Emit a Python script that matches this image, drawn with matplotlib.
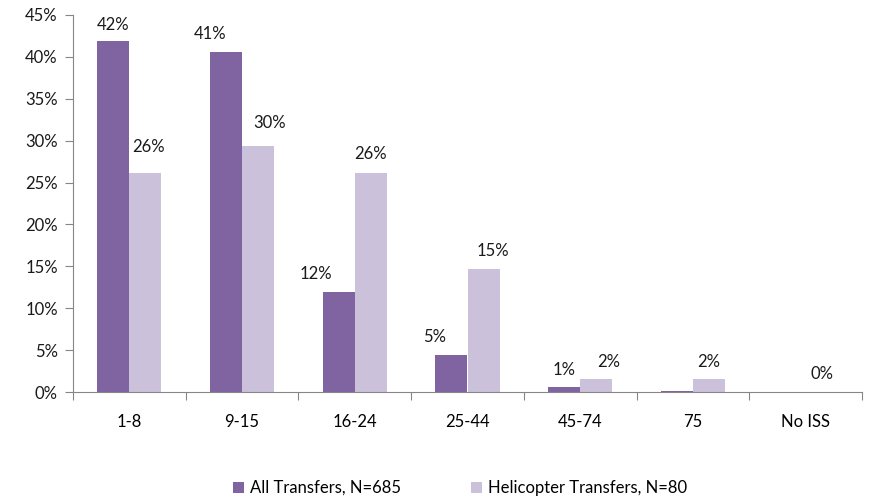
import matplotlib as mpl

mpl.use('agg')

import matplotlib.pyplot as plt
import numpy as np

plt.rcParams['font.family'] = ['Lato', 'DejaVu Sans']
plt.rcParams['font.size'] = 12

categories = ["1-8", "9-15", "16-24", "25-44", "45-74", "75", "No ISS"]
all_transfers = [41.9, 40.6, 11.9, 4.4, 0.6, 0.15, 0.0]
heli_transfers = [26.2, 29.4, 26.2, 14.7, 1.6, 1.6, 0.0]
all_labels = ["42%", "41%", "12%", "5%", "1%", "", ""]
heli_labels = ["26%", "30%", "26%", "15%", "2%", "2%", "0%"]
series_names = ["All Transfers, N=685", "Helicopter Transfers, N=80"]

# label nudges (pixels) - the original labels were moved around by hand
all_nudge = [(0, 16), (-16, 18), (-23, 18), (-17, 18), (0, 17), (0, 17), (0, 17)]
heli_nudge = [(3, 26), (11, 23), (0, 19), (9, 18), (12, 17), (0, 17), (0, 18)]

c_all = '#8064A2'
c_heli = '#CCC1DA'
c_axis = '#868686'
c_text = '#1a1a1a'

fig = plt.figure(figsize=(8.69, 4.98), dpi=100)
ax = fig.add_axes([73 / 869, 1 - 392 / 498, (862 - 73) / 869, (392 - 15) / 498])

x = np.arange(len(categories))
w = 0.285
b1 = ax.bar(x - w / 2, all_transfers, w, color=c_all, label=series_names[0])
b2 = ax.bar(x + w / 2, heli_transfers, w, color=c_heli, label=series_names[1])

for bars, labels, nudge in [(b1, all_labels, all_nudge), (b2, heli_labels, heli_nudge)]:
    for bar, lab, (dx, dy) in zip(bars, labels, nudge):
        if not lab:
            continue
        ax.annotate(lab, (bar.get_x() + bar.get_width() / 2, bar.get_height()),
                    xytext=(dx, dy), textcoords='offset pixels',
                    ha='center', va='center', fontsize=12, color=c_text)

ax.set_xlim(-0.5, len(categories) - 0.5)
ax.set_ylim(0, 45)
ax.set_yticks(range(0, 46, 5))
ax.set_yticklabels([f"{v}%" for v in range(0, 46, 5)])

ax.set_xticks(np.arange(len(categories) + 1) - 0.5)
ax.set_xticklabels([])
ax.set_xticks(x, minor=True)
ax.set_xticklabels(categories, minor=True)
ax.tick_params(axis='x', which='major', length=6, color=c_axis, direction='out')
ax.tick_params(axis='x', which='minor', length=0, pad=16)
ax.tick_params(axis='y', length=6, color=c_axis, pad=5)
ax.tick_params(labelsize=12, labelcolor=c_text)

for s in ['top', 'right']:
    ax.spines[s].set_visible(False)
for s in ['left', 'bottom']:
    ax.spines[s].set_color(c_axis)

fig.legend(loc='center', bbox_to_anchor=(460 / 869, 1 - 488 / 498), ncol=2,
           frameon=False, handlelength=0.65, handleheight=0.65, handletextpad=0.35,
           columnspacing=4.2, fontsize=12)

fig.savefig('out.png', dpi=100)
